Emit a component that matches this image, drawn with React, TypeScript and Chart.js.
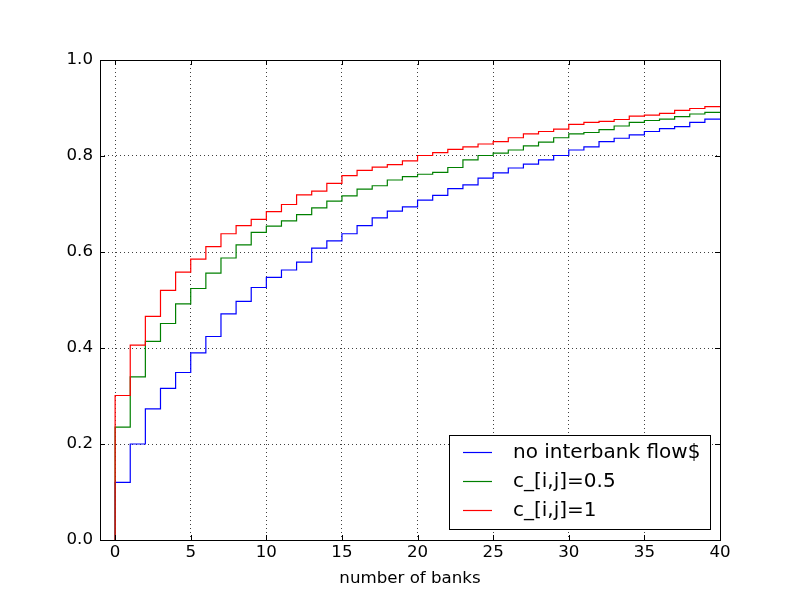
import React, { useEffect, useRef } from "react";
import { Chart, registerables } from "chart.js";

Chart.register(...registerables);

const banks = [0, 1, 2, 3, 4, 5, 6, 7, 8, 9, 10, 11, 12, 13, 14, 15, 16, 17, 18, 19, 20, 21, 22, 23, 24, 25, 26, 27, 28, 29, 30, 31, 32, 33, 34, 35, 36, 37, 38, 39, 40];

const noInterbankFlow = [0.120, 0.200, 0.273, 0.316, 0.349, 0.390, 0.424, 0.471, 0.497, 0.526, 0.547, 0.5625, 0.579, 0.608, 0.623, 0.638, 0.655, 0.671, 0.685, 0.694, 0.708, 0.718, 0.732, 0.740, 0.754, 0.765, 0.775, 0.783, 0.792, 0.801, 0.8125, 0.819, 0.830, 0.837, 0.844, 0.851, 0.857, 0.861, 0.870, 0.877, 0.877];

const cHalf = [0.235, 0.340, 0.414, 0.451, 0.492, 0.524, 0.556, 0.5875, 0.615, 0.641, 0.654, 0.665, 0.678, 0.692, 0.706, 0.717, 0.731, 0.738, 0.750, 0.757, 0.762, 0.766, 0.776, 0.792, 0.801, 0.806, 0.8125, 0.821, 0.829, 0.838, 0.846, 0.849, 0.855, 0.8625, 0.870, 0.874, 0.877, 0.882, 0.8875, 0.891, 0.891];

const cOne = [0.301, 0.406, 0.466, 0.520, 0.558, 0.585, 0.611, 0.638, 0.655, 0.668, 0.684, 0.699, 0.719, 0.727, 0.743, 0.759, 0.770, 0.777, 0.782, 0.790, 0.801, 0.807, 0.814, 0.819, 0.825, 0.830, 0.838, 0.846, 0.851, 0.856, 0.866, 0.870, 0.872, 0.876, 0.883, 0.885, 0.889, 0.895, 0.899, 0.903, 0.904];

const seriesLabels = ["no interbank flow$", "c_[i,j]=0.5", "c_[i,j]=1"];
const seriesColors = ["#0000ff", "#008000", "#ff0000"];

const xTicks = [0, 5, 10, 15, 20, 25, 30, 35, 40];
const yTicks = [0.0, 0.2, 0.4, 0.6, 0.8, 1.0];

const FONT = "'DejaVu Sans', sans-serif";

function toPoints(values: number[]) {
  // the cumulative curve starts from zero at the first bank
  return [{ x: banks[0], y: 0 }, ...banks.map((b, i) => ({ x: b, y: values[i] }))];
}

const framePlugin = {
  id: "frame",
  afterDraw(chart: any) {
    const { ctx, chartArea } = chart;
    const { left, right, top, bottom } = chartArea;
    const xs = chart.scales.x;
    const ys = chart.scales.y;
    ctx.save();
    ctx.strokeStyle = "#000";
    ctx.lineWidth = 1;
    // inward ticks on all sides
    ctx.beginPath();
    for (const v of xTicks) {
      const px = Math.round(xs.getPixelForValue(v)) + 0.5;
      ctx.moveTo(px, bottom);
      ctx.lineTo(px, bottom - 5);
      ctx.moveTo(px, top);
      ctx.lineTo(px, top + 5);
    }
    for (const v of yTicks) {
      const py = Math.round(ys.getPixelForValue(v)) + 0.5;
      ctx.moveTo(left, py);
      ctx.lineTo(left + 5, py);
      ctx.moveTo(right, py);
      ctx.lineTo(right - 5, py);
    }
    ctx.stroke();
    ctx.strokeRect(Math.round(left) + 0.5, Math.round(top) + 0.5, Math.round(right - left), Math.round(bottom - top));

    // legend
    ctx.font = `20px ${FONT}`;
    const ds = chart.data.datasets;
    let maxW = 0;
    for (const d of ds) maxW = Math.max(maxW, ctx.measureText(d.label).width);
    const boxW = Math.round(64 + maxW + 10);
    const boxH = 94;
    const bx = Math.round(right - 10 - boxW);
    const by = Math.round(bottom - 11 - boxH);
    ctx.fillStyle = "#fff";
    ctx.fillRect(bx, by, boxW, boxH);
    ctx.strokeRect(bx + 0.5, by + 0.5, boxW, boxH);
    ctx.textBaseline = "middle";
    ctx.textAlign = "left";
    ds.forEach((d: any, i: number) => {
      const ry = by + 17 + i * 29;
      ctx.strokeStyle = d.borderColor;
      ctx.lineWidth = 1.2;
      ctx.beginPath();
      ctx.moveTo(bx + 14, ry + 0.5);
      ctx.lineTo(bx + 43, ry + 0.5);
      ctx.stroke();
      ctx.fillStyle = "#000";
      ctx.fillText(d.label, bx + 64, ry + 1);
    });
    ctx.restore();
  },
};

export default function App() {
  const ref = useRef<HTMLCanvasElement | null>(null);

  useEffect(() => {
    document.body.style.margin = "0";
    const canvas = ref.current;
    if (!canvas) return;
    const values = [noInterbankFlow, cHalf, cOne];
    const chart = new Chart(canvas, {
      type: "line",
      data: {
        datasets: values.map((v, i) => ({
          label: seriesLabels[i],
          data: toPoints(v),
          borderColor: seriesColors[i],
          backgroundColor: seriesColors[i],
          borderWidth: 1.2,
          pointRadius: 0,
          stepped: "before" as const,
          fill: false,
          order: 2 - i,
        })),
      },
      options: {
        animation: false,
        responsive: false,
        devicePixelRatio: 1,
        layout: { padding: { left: 0, right: 80, top: 60, bottom: 0 } },
        plugins: {
          legend: { display: false },
          tooltip: { enabled: false },
          title: { display: false },
        },
        scales: {
          x: {
            type: "linear",
            min: -1,
            max: 40,
            afterBuildTicks: (s: any) => {
              s.ticks = xTicks.map((v) => ({ value: v }));
            },
            afterFit: (s: any) => {
              s.height = 60;
            },
            grid: {
              display: true,
              drawTicks: false,
              color: "rgba(0,0,0,0.75)",
              lineWidth: 1,
            },
            border: { display: false, dash: [1, 3] },
            ticks: {
              color: "#000",
              font: { family: FONT, size: 16.67 },
              padding: 3,
              maxRotation: 0,
              callback: (v: any) => String(v),
            },
            title: {
              display: true,
              text: "number of banks",
              color: "#000",
              font: { family: FONT, size: 16.67 },
              padding: { top: 0, bottom: 11 },
            },
          },
          y: {
            type: "linear",
            min: 0,
            max: 1,
            afterBuildTicks: (s: any) => {
              s.ticks = yTicks.map((v) => ({ value: v }));
            },
            afterFit: (s: any) => {
              s.width = 100;
            },
            grid: {
              display: true,
              drawTicks: false,
              color: "rgba(0,0,0,0.75)",
              lineWidth: 1,
            },
            border: { display: false, dash: [1, 3] },
            ticks: {
              color: "#000",
              font: { family: FONT, size: 16.67 },
              padding: 7,
              callback: (v: any) => Number(v).toFixed(1),
            },
          },
        },
      },
      plugins: [framePlugin],
    });
    return () => chart.destroy();
  }, []);

  return (
    <div style={{ position: "absolute", left: 0, top: 0, width: 800, height: 600, background: "#fff" }}>
      <canvas ref={ref} width={800} height={600} />
    </div>
  );
}
